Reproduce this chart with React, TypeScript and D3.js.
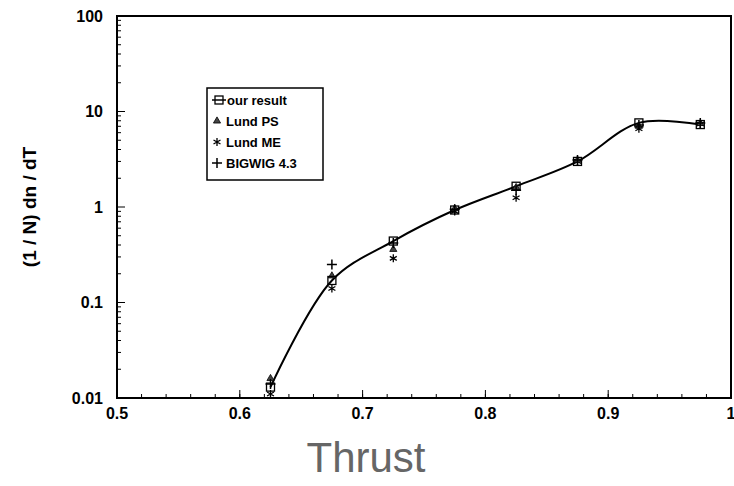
import React, { useEffect, useRef } from 'react';
import * as d3 from 'd3';

// thrust bin centres
const thrust = [0.625, 0.675, 0.725, 0.775, 0.825, 0.875, 0.925, 0.975];
const ourResult = [0.013, 0.17, 0.44, 0.93, 1.65, 3.0, 7.6, 7.3];
const lundPS = [0.016, 0.19, 0.36, 0.96, 1.6, 3.1, 7.0, 7.5];
const lundME = [0.011, 0.14, 0.29, 0.9, 1.25, 3.0, 6.6, 7.4];
const bigwig = [0.014, 0.25, 0.42, 0.95, 1.5, 3.1, 7.2, 7.6];

const xTicks = [0.5, 0.6, 0.7, 0.8, 0.9, 1];
const yTicks = [0.01, 0.1, 1, 10, 100];
const legendLabels = ['our result', 'Lund PS', 'Lund ME', 'BIGWIG 4.3'];

const App = () => {
  const chartRef = useRef<SVGSVGElement | null>(null);

  useEffect(() => {
    const svg = d3.select(chartRef.current);
    svg.selectAll('*').remove();

    const left = 117, right = 731, top = 16, bottom = 398;

    const x = d3.scaleLinear().domain([0.5, 1]).range([left, right]);
    const y = d3.scaleLog().domain([0.01, 100]).range([bottom, top]);

    const font = '"Liberation Sans", Arial, sans-serif';

    // frame
    svg.append('rect')
      .attr('x', left).attr('y', top)
      .attr('width', right - left).attr('height', bottom - top)
      .attr('fill', 'none').attr('stroke', '#000').attr('stroke-width', 2);

    // minor ticks x
    const xMinor = d3.range(0.52, 1.0, 0.02);
    svg.append('g').selectAll('line').data(xMinor).enter().append('line')
      .attr('x1', d => x(d)).attr('x2', d => x(d))
      .attr('y1', bottom).attr('y2', bottom - 4)
      .attr('stroke', '#000').attr('stroke-width', 1);
    svg.append('g').selectAll('line').data(xTicks.slice(1, -1)).enter().append('line')
      .attr('x1', d => x(d)).attr('x2', d => x(d))
      .attr('y1', bottom).attr('y2', bottom - 8)
      .attr('stroke', '#000').attr('stroke-width', 1);

    // minor ticks y
    const yMinor: number[] = [];
    [0.01, 0.1, 1, 10].forEach(dec => {
      for (let k = 2; k <= 9; k++) yMinor.push(dec * k);
    });
    svg.append('g').selectAll('line').data(yMinor).enter().append('line')
      .attr('x1', left).attr('x2', left + 4)
      .attr('y1', d => y(d)).attr('y2', d => y(d))
      .attr('stroke', '#000').attr('stroke-width', 1);
    svg.append('g').selectAll('line').data(yTicks.slice(1, -1)).enter().append('line')
      .attr('x1', left).attr('x2', left + 8)
      .attr('y1', d => y(d)).attr('y2', d => y(d))
      .attr('stroke', '#000').attr('stroke-width', 1);

    // tick labels
    svg.append('g').selectAll('text').data(xTicks).enter().append('text')
      .attr('x', d => x(d)).attr('y', bottom + 21)
      .attr('text-anchor', 'middle')
      .style('font-family', font).style('font-size', '16px').style('font-weight', 'bold')
      .text(d => String(d));
    svg.append('g').selectAll('text').data(yTicks).enter().append('text')
      .attr('x', left - 14).attr('y', d => y(d)).attr('dy', '0.35em')
      .attr('text-anchor', 'end')
      .style('font-family', font).style('font-size', '16px').style('font-weight', 'bold')
      .text(d => String(d));

    // axis titles
    svg.append('text')
      .attr('transform', `translate(36,${(top + bottom) / 2}) rotate(-90)`)
      .attr('text-anchor', 'middle')
      .style('font-family', font).style('font-size', '19px').style('font-weight', 'bold')
      .text('(1 / N) dn / dT');
    svg.append('text')
      .attr('x', 366).attr('y', 472)
      .attr('text-anchor', 'middle')
      .style('font-family', font).style('font-size', '42px')
      .attr('fill', '#666')
      .text('Thrust');

    // smooth curve through our result
    const line = d3.line<number>()
      .x((d, i) => x(thrust[i]))
      .y(d => y(d))
      .curve(d3.curveCatmullRom.alpha(0.5));
    svg.append('path')
      .datum(ourResult)
      .attr('d', line)
      .attr('fill', 'none').attr('stroke', '#000').attr('stroke-width', 2);

    // marker drawers
    const square = (g: any, cx: number, cy: number) =>
      g.append('rect').attr('x', cx - 4).attr('y', cy - 4).attr('width', 8).attr('height', 8)
        .attr('fill', 'none').attr('stroke', '#000').attr('stroke-width', 1.3);
    const tri = (g: any, cx: number, cy: number) =>
      g.append('path').attr('d', d3.symbol(d3.symbolTriangle, 22)()).attr('transform', `translate(${cx},${cy})`)
        .attr('fill', '#444').attr('stroke', '#000').attr('stroke-width', 0.8);
    const star = (g: any, cx: number, cy: number) =>
      g.append('path').attr('d', d3.symbol(d3.symbolAsterisk, 45)()).attr('transform', `translate(${cx},${cy})`)
        .attr('fill', 'none').attr('stroke', '#000').attr('stroke-width', 1.3);
    const plus = (g: any, cx: number, cy: number) =>
      g.append('path').attr('d', `M${cx - 5},${cy}H${cx + 5}M${cx},${cy - 5}V${cy + 5}`)
        .attr('stroke', '#000').attr('stroke-width', 1.5);

    const pts = svg.append('g');
    lundME.forEach((v, i) => star(pts, x(thrust[i]), y(v)));
    lundPS.forEach((v, i) => tri(pts, x(thrust[i]), y(v)));
    bigwig.forEach((v, i) => plus(pts, x(thrust[i]), y(v)));
    ourResult.forEach((v, i) => square(pts, x(thrust[i]), y(v)));

    // legend
    const lg = svg.append('g');
    lg.append('rect')
      .attr('x', 207).attr('y', 88).attr('width', 116).attr('height', 92)
      .attr('fill', '#fff').attr('stroke', '#000').attr('stroke-width', 1.5);
    const drawers = [square, tri, star, plus];
    legendLabels.forEach((lab, i) => {
      const cy = 100 + i * 21;
      if (i === 0) {
        lg.append('line').attr('x1', 212).attr('x2', 226).attr('y1', cy).attr('y2', cy)
          .attr('stroke', '#000').attr('stroke-width', 1.5);
      }
      drawers[i](lg, i === 0 ? 219 : 217, cy);
      lg.append('text')
        .attr('x', i === 0 ? 227 : 226).attr('y', cy).attr('dy', '0.35em')
        .style('font-family', font).style('font-size', '13px').style('font-weight', 'bold')
        .text(lab);
    });
  }, []);

  return (
    <svg
      ref={chartRef}
      width={734}
      height={486}
      style={{ position: 'absolute', left: 0, top: 0, background: '#fff' }}
    />
  );
};

export default App;
